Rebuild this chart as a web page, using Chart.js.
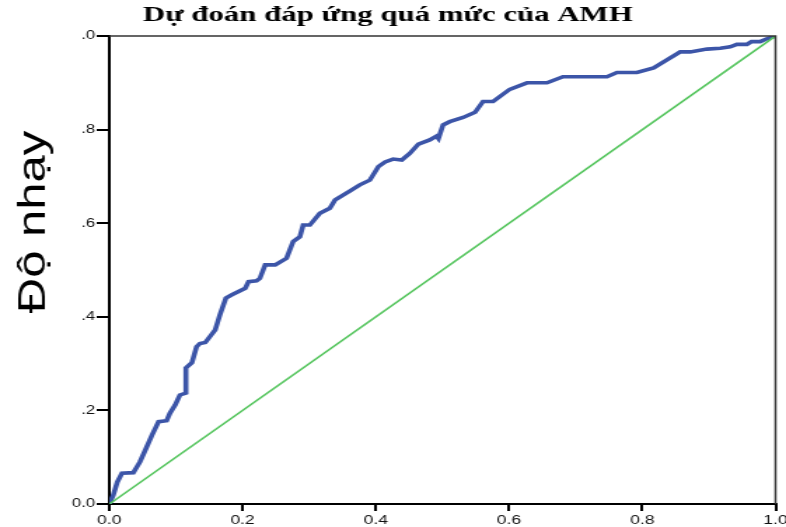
<!DOCTYPE html>
<html>
<head>
<meta charset="utf-8">
<script src="https://cdn.jsdelivr.net/npm/chart.js@4"></script>
<style>
  html, body { margin: 0; padding: 0; background: #fff; overflow: hidden; }
  /* the reference is stretched sideways, so draw narrow and widen */
  #wrap { position: absolute; left: 0; top: 0; width: 561px; height: 527px;
          transform: scaleX(1.4011); transform-origin: 0 0; }
</style>
</head>
<body>
<div id="wrap"><canvas id="myChart"></canvas></div>
<script>
const chartTitle = 'Dự đoán đáp ứng quá mức của AMH';
const yTitle = 'Độ nhạy';

const fpr = [0, 0.006, 0.012, 0.019, 0.036, 0.046, 0.054, 0.064, 0.074, 0.086, 0.091, 0.099, 0.106, 0.115, 0.115,
  0.124, 0.131, 0.136, 0.144, 0.159, 0.166, 0.175, 0.184, 0.204, 0.209, 0.221, 0.226, 0.234, 0.249, 0.266,
  0.276, 0.286, 0.291, 0.301, 0.316, 0.331, 0.339, 0.359, 0.376, 0.391, 0.404, 0.414, 0.426, 0.439, 0.451,
  0.464, 0.481, 0.491, 0.494, 0.501, 0.511, 0.531, 0.549, 0.561, 0.576, 0.601, 0.627, 0.657, 0.681, 0.747,
  0.762, 0.792, 0.817, 0.837, 0.857, 0.872, 0.897, 0.917, 0.932, 0.942, 0.957, 0.964, 0.977, 0.987, 1];
const tpr = [0, 0.019, 0.047, 0.066, 0.067, 0.090, 0.115, 0.147, 0.176, 0.178, 0.194, 0.212, 0.233, 0.237, 0.291,
  0.302, 0.336, 0.343, 0.345, 0.372, 0.404, 0.440, 0.447, 0.461, 0.475, 0.477, 0.482, 0.511, 0.511, 0.525,
  0.561, 0.571, 0.596, 0.596, 0.621, 0.632, 0.650, 0.667, 0.682, 0.692, 0.721, 0.731, 0.737, 0.735, 0.749,
  0.769, 0.778, 0.786, 0.781, 0.810, 0.817, 0.826, 0.837, 0.860, 0.860, 0.886, 0.900, 0.900, 0.913, 0.913,
  0.922, 0.922, 0.932, 0.949, 0.966, 0.966, 0.972, 0.974, 0.977, 0.982, 0.982, 0.988, 0.988, 0.994, 1];

const refX = [0, 1];
const refY = [0, 1];

const xTickLabels = ['0.0', '0.2', '0.4', '0.6', '0.8', '1.0'];
const yTickLabels = ['0.0', '.2', '.4', '.6', '.8', '.0'];

// box on top and right, plus the big rotated y title
const framePlugin = {
  id: 'frame',
  afterDraw(chart) {
    const { ctx, chartArea: a } = chart;
    ctx.save();
    ctx.strokeStyle = '#333';
    ctx.lineWidth = 1.5;
    ctx.beginPath();
    ctx.moveTo(a.left, a.top);
    ctx.lineTo(a.right, a.top);
    ctx.lineTo(a.right, a.bottom);
    ctx.stroke();

    ctx.translate(24, 222);
    ctx.rotate(-Math.PI / 2);
    ctx.scale(1.75, 1);
    ctx.fillStyle = '#000';
    ctx.font = '28px "Liberation Sans", Arial, sans-serif';
    ctx.textAlign = 'center';
    ctx.textBaseline = 'middle';
    ctx.fillText(yTitle, 0, 0);
    ctx.restore();
  }
};

function draw_chart() {
  const ctx = document.getElementById('myChart');

  new Chart(ctx, {
    type: 'scatter',
    data: {
      datasets: [{
        label: 'Tham chiếu',
        data: refX.map((x, i) => ({ x: x, y: refY[i] })),
        showLine: true,
        borderColor: '#55c55e',
        borderWidth: 1.6,
        pointRadius: 0
      }, {
        label: 'AMH',
        data: fpr.map((x, i) => ({ x: x, y: tpr[i] })),
        showLine: true,
        borderColor: '#3c55a8',
        borderWidth: 3.6,
        pointRadius: 0
      }]
    },
    options: {
      responsive: true,
      maintainAspectRatio: false,
      animation: false,
      layout: {
        padding: { top: 0, right: 7.5, bottom: 0, left: 0 }
      },
      plugins: {
        legend: { display: false },
        tooltip: { enabled: false },
        title: {
          display: true,
          text: chartTitle,
          color: '#000',
          font: { family: '"Liberation Serif", "Times New Roman", serif', size: 22, weight: 'bold', lineHeight: 1.2 },
          padding: { top: 2, bottom: 7.6 }
        }
      },
      scales: {
        x: {
          type: 'linear',
          min: 0,
          max: 1,
          grid: { display: true, drawOnChartArea: false, drawTicks: true, tickLength: 7, color: '#000', lineWidth: 2 },
          border: { display: true, color: '#000', width: 2 },
          ticks: {
            stepSize: 0.2,
            padding: 2,
            color: '#111',
            maxRotation: 0,
            font: { family: '"Liberation Sans", Arial, sans-serif', size: 12.5 },
            callback: function(value, index) {
              return xTickLabels[index];
            }
          },
          afterFit: function(scale) {
            scale.height = 23;
            scale.paddingLeft = 0;
            scale.paddingRight = 0;
          }
        },
        y: {
          type: 'linear',
          min: 0,
          max: 1,
          grid: { display: true, drawOnChartArea: false, drawTicks: true, tickLength: 9, color: '#000', lineWidth: 2 },
          border: { display: true, color: '#000', width: 2 },
          ticks: {
            stepSize: 0.2,
            padding: 1,
            color: '#111',
            font: { family: '"Liberation Sans", Arial, sans-serif', size: 12 },
            callback: function(value, index) {
              return yTickLabels[index];
            }
          },
          afterFit: function(scale) {
            scale.width = 78;
            scale.paddingTop = 0;
            scale.paddingBottom = 0;
          }
        }
      }
    },
    plugins: [framePlugin]
  });
}

draw_chart();
</script>
</body>
</html>
